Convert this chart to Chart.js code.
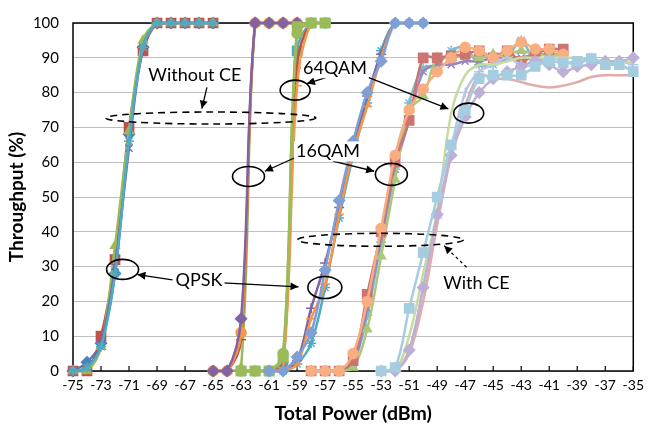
<!DOCTYPE html>
<html>
<head>
<meta charset="utf-8">
<script src="https://cdn.jsdelivr.net/npm/chart.js@4"></script>
<style>
  html, body { margin: 0; padding: 0; background: #fff; }
  #wrap { width: 650px; height: 441px; }
</style>
</head>
<body>
<div id="wrap"><canvas id="chart"></canvas></div>
<script>
// x tick labels run from -75 to -35 every 2 dBm
var xMin = -75, xMax = -35, xStep = 2;
var yMin = 0, yMax = 100, yStep = 10;

// QPSK, no channel estimation
var xQpsk = [-75, -74, -73, -72, -71, -70, -69, -68, -67, -66, -65];
var qpskA = [0, 2.5, 8, 28, 68, 93, 100, 100, 100, 100, 100];
var qpskB = [0, 0, 10, 32, 70, 92, 100, 100, 100, 100, 100];
var qpskC = [0, 0, 7, 36, 69, 95, 100, 100, 100, 100, 100];
var qpskD = [0, 1, 8, 30, 64, 93, 100, 100, 100, 100, 100];
var qpskE = [0, 1, 7, 28, 66, 93, 100, 100, 100, 100, 100];

// 16QAM, no channel estimation
var x16 = [-65, -64, -63, -62, -61, -60, -59];
var qam16A = [0, 0, 15, 100, 100, 100, 100];
var qam16B = [0, 0, 11, 100, 100, 100, 100];
var qam16C = [0, 0, 9, 100, 100, 100, 100];
var qam16D = [0, 0, 1, 100, 100, 100, 100];

// 64QAM, no channel estimation
var x64 = [-63, -62, -61, -60, -59, -58, -57];
var qam64A = [0, 0, 0, 5, 97, 100, 100];
var qam64B = [0, 0, 0, 4, 99, 100, 100];
var qam64C = [0, 0, 0, 1, 82, 100, 100];
var qam64D = [0, 0, 0, 2, 88, 100, 100];
var qam64E = [0, 0, 0, 3, 92, 100, 100];

// QPSK with CE
var xQpskCe = [-61, -60, -59, -58, -57, -56, -55, -54, -53, -52, -51, -50];
var qpskCeA = [0, 0, 4, 11, 29, 49, 66, 80, 89, 100, 100, 100];
var qpskCeB = [0, 0, 2, 15, 25, 45, 63, 76, 90, 100, 100, 100];
var qpskCeC = [0, 0, 3, 18, 31, 47, 64, 79, 91, 100, 100, 100];
var qpskCeD = [0, 0, 2, 8, 24, 44, 62, 77, 92, 100, 100, 100];

// 16QAM with CE
var x16Ce = [-58, -57, -56, -55, -54, -53, -52, -51, -50, -49, -48, -47, -46, -45, -44, -43, -42, -41, -40];
var qam16CeA = [0, 0, 0, 5, 20, 41, 62, 75, 81, 86, 90, 93, 92, 90, 92, 94.5, 92.5, 92.5, 91];
var qam16CeB = [0, 0, 0, 3, 22, 40, 60, 72, 90, 90, 90.5, 91, 92, 90, 92, 89, 91, 92.5, 92.5];
var qam16CeC = [0, 0, 0, 1, 12, 33, 55, 75, 79, 90, 90, 91, 90, 91, 91, 92, 91, 91, 91];
var qam16CeD = [0, 0, 0, 2, 18, 38, 58, 72, 86, 88, 88, 89, 89, 90, 90, 90, 91, 91, 91];
var qam16CeE = [0, 0, 0, 2, 16, 37, 58, 77, 87, 88, 92, 93, 88, 88, 90, 95, 89, 90, 90];

// 64QAM with CE
var x64Ce = [-53, -52, -51, -50, -49, -48, -47, -46, -45, -44, -43, -42, -41, -40, -39, -38, -37, -36, -35];
var qam64CeA = [0, 1, 18, 34, 50, 65, 75, 84, 85, 85, 85, 87.5, 89, 88.5, 89, 89.8, 88, 88, 86];
var qam64CeB = [0, 0, 6, 24, 45, 62, 73, 80, 84, 86, 87.5, 89, 88, 86, 87.5, 88, 89, 89, 90];
var qam64CeC = [0, 0, 5, 20, 42, 62, 76, 85, 84, 84, 83, 82, 81.5, 82, 83, 84.5, 85, 85, 85];
var qam64CeD = [0, 0, 10, 28, 46, 74, 85, 88, 88, 89, 90, 90, 90, 90, 90, 89.5, 89, 89, 88.5];
var qam64CeE = [0, 0, 6, 24, 44, 64, 80, 86, 88, 90, 88, 88, 90, 89, 88, 90, 88, 89, 88];

// marker sizes per point style
var markerSize = {rect: 6.5, rectRot: 5.5, circle: 5, triangle: 5, crossRot: 5, cross: 5, star: 5, line: 5};

function makeSeries(xs, ys, color, marker, hideMarker) {
    var pts = [];
    for (var i = 0; i < xs.length; i++) {
        pts.push({x: xs[i], y: ys[i]});
    }
    return {
        data: pts,
        showLine: true,
        borderColor: color,
        backgroundColor: color,
        borderWidth: 2.5,
        tension: 0.35,
        pointStyle: marker,
        pointRadius: hideMarker ? 0 : markerSize[marker],
        pointBorderColor: color,
        pointBackgroundColor: color,
        pointBorderWidth: 1.5,
        clip: false
    };
}

var datasets = [
    makeSeries(xQpsk, qpskA, '#4F81BD', 'rectRot'),
    makeSeries(xQpsk, qpskB, '#C0504D', 'rect'),
    makeSeries(xQpsk, qpskC, '#9BBB59', 'triangle'),
    makeSeries(xQpsk, qpskD, '#8064A2', 'crossRot'),
    makeSeries(xQpsk, qpskE, '#4BACC6', 'star'),

    makeSeries(x16, qam16D, '#9BBB59', 'triangle'),
    makeSeries(x16, qam16C, '#C0504D', 'line'),
    makeSeries(x16, qam16B, '#F79646', 'circle'),
    makeSeries(x16, qam16A, '#8064A2', 'rectRot'),

    makeSeries(x64, qam64E, '#4BACC6', 'rect'),
    makeSeries(x64, qam64D, '#C0504D', 'crossRot'),
    makeSeries(x64, qam64C, '#F79646', 'line'),
    makeSeries(x64, qam64B, '#9BBB59', 'rect'),
    makeSeries(x64, qam64A, '#9BBB59', 'circle'),

    makeSeries(xQpskCe, qpskCeD, '#4BACC6', 'star'),
    makeSeries(xQpskCe, qpskCeC, '#8064A2', 'cross'),
    makeSeries(xQpskCe, qpskCeB, '#F79646', 'line'),
    makeSeries(xQpskCe, qpskCeA, '#7F9FD6', 'rectRot'),

    makeSeries(x16Ce, qam16CeE, '#7DB9D0', 'star'),
    makeSeries(x16Ce, qam16CeD, '#9A86BA', 'crossRot'),
    makeSeries(x16Ce, qam16CeC, '#A9C97A', 'triangle'),
    makeSeries(x16Ce, qam16CeB, '#CD7472', 'rect'),
    makeSeries(x16Ce, qam16CeA, '#F8AE80', 'circle'),

    makeSeries(x64Ce, qam64CeE, '#B6C7E6', 'cross'),
    makeSeries(x64Ce, qam64CeD, '#C6DBA2', 'triangle', true),
    makeSeries(x64Ce, qam64CeC, '#E2AAA8', 'rect', true),
    makeSeries(x64Ce, qam64CeB, '#BDB0D6', 'rectRot'),
    makeSeries(x64Ce, qam64CeA, '#A6CCE0', 'rect')
];
// later series sit on top, as in the source
datasets.forEach(function (d, i) { d.order = datasets.length - i; });

// call-outs, positioned in data units
var labels = [
    {text: 'Without CE', x: -66.3, y: 85.1},
    {text: '64QAM', x: -56.3, y: 87.0},
    {text: '16QAM', x: -56.8, y: 63.1},
    {text: 'QPSK', x: -66.0, y: 26.2},
    {text: 'With CE', x: -46.2, y: 25.1}
];
var rings = [
    {x: -59.14, y: 80.7, rx: 15, ry: 10},
    {x: -46.75, y: 74.1, rx: 15, ry: 10},
    {x: -62.47, y: 55.9, rx: 16, ry: 10},
    {x: -52.27, y: 56.5, rx: 16, ry: 11},
    {x: -71.46, y: 29.2, rx: 16, ry: 10},
    {x: -57.02, y: 24.0, rx: 17, ry: 11}
];
var dashedRings = [
    {x: -65.16, y: 72.7, rx: 105, ry: 6},
    {x: -53.05, y: 37.7, rx: 83, ry: 6.5}
];
var arrows = [
    {x1: -65.44, y1: 81.5, x2: -65.8, y2: 75.4, dashed: false},
    {x1: -56.95, y1: 84.3, x2: -58.3, y2: 82.6, dashed: false},
    {x1: -54.2, y1: 84.8, x2: -48.2, y2: 75.3, dashed: false},
    {x1: -59.2, y1: 61.2, x2: -61.3, y2: 57.4, dashed: false},
    {x1: -56.45, y1: 60.3, x2: -53.5, y2: 57.4, dashed: false},
    {x1: -67.9, y1: 26.2, x2: -70.4, y2: 27.7, dashed: false},
    {x1: -64.3, y1: 25.3, x2: -58.9, y2: 24.2, dashed: false},
    {x1: -46.9, y1: 29.8, x2: -48.5, y2: 36.0, dashed: true}
];

function drawArrow(ctx, x1, y1, x2, y2, dashed) {
    ctx.save();
    ctx.strokeStyle = '#000';
    ctx.fillStyle = '#000';
    ctx.lineWidth = dashed ? 1.2 : 1.3;
    if (dashed) ctx.setLineDash([3, 3]);
    ctx.beginPath();
    ctx.moveTo(x1, y1);
    ctx.lineTo(x2, y2);
    ctx.stroke();
    ctx.setLineDash([]);
    var a = Math.atan2(y2 - y1, x2 - x1);
    var len = 8, w = 4;
    ctx.beginPath();
    ctx.moveTo(x2, y2);
    ctx.lineTo(x2 - len * Math.cos(a) + w * Math.sin(a), y2 - len * Math.sin(a) - w * Math.cos(a));
    ctx.lineTo(x2 - len * Math.cos(a) - w * Math.sin(a), y2 - len * Math.sin(a) + w * Math.cos(a));
    ctx.closePath();
    ctx.fill();
    ctx.restore();
}

var framePlugin = {
    id: 'frame',
    beforeDatasetsDraw: function (chart) {
        var ctx = chart.ctx, a = chart.chartArea;
        var xs = chart.scales.x;
        ctx.save();
        ctx.strokeStyle = '#000';
        ctx.lineWidth = 1.5;
        ctx.strokeRect(a.left, a.top, a.right - a.left, a.bottom - a.top);
        // small inside tick marks on the x axis
        ctx.lineWidth = 1.2;
        for (var v = xMin; v <= xMax; v += xStep) {
            var px = xs.getPixelForValue(v);
            ctx.beginPath();
            ctx.moveTo(px, a.bottom);
            ctx.lineTo(px, a.bottom - 5);
            ctx.stroke();
        }
        ctx.restore();
    },
    afterDraw: function (chart) {
        var ctx = chart.ctx;
        var xs = chart.scales.x, ys = chart.scales.y;
        ctx.save();
        ctx.strokeStyle = '#000';
        ctx.lineWidth = 1.6;
        rings.forEach(function (r) {
            ctx.beginPath();
            ctx.ellipse(xs.getPixelForValue(r.x), ys.getPixelForValue(r.y), r.rx, r.ry, 0, 0, Math.PI * 2);
            ctx.stroke();
        });
        ctx.setLineDash([7, 5]);
        ctx.lineWidth = 1.6;
        dashedRings.forEach(function (r) {
            ctx.beginPath();
            ctx.ellipse(xs.getPixelForValue(r.x), ys.getPixelForValue(r.y), r.rx, r.ry, 0, 0, Math.PI * 2);
            ctx.stroke();
        });
        ctx.setLineDash([]);
        arrows.forEach(function (ar) {
            drawArrow(ctx, xs.getPixelForValue(ar.x1), ys.getPixelForValue(ar.y1),
                xs.getPixelForValue(ar.x2), ys.getPixelForValue(ar.y2), ar.dashed);
        });
        ctx.fillStyle = '#000';
        ctx.font = '18px Lato';
        ctx.textAlign = 'center';
        ctx.textBaseline = 'middle';
        labels.forEach(function (l) {
            var px = xs.getPixelForValue(l.x), py = ys.getPixelForValue(l.y);
            var w = ctx.measureText(l.text).width;
            ctx.fillStyle = '#fff';
            ctx.fillRect(px - w / 2 - 2, py - 10, w + 4, 20);
            ctx.fillStyle = '#000';
            ctx.fillText(l.text, px, py);
        });
        ctx.restore();
    }
};

Chart.defaults.font.family = 'Lato';
Chart.defaults.color = '#000';

new Chart(document.getElementById('chart'), {
    type: 'scatter',
    data: {datasets: datasets},
    options: {
        responsive: true,
        maintainAspectRatio: false,
        animation: false,
        layout: {padding: {left: 0, right: 12, top: 8, bottom: 0}},
        plugins: {legend: {display: false}, tooltip: {enabled: false}},
        scales: {
            x: {
                type: 'linear',
                min: xMin,
                max: xMax,
                ticks: {stepSize: xStep, font: {size: 14}, padding: 6, maxRotation: 0, autoSkip: false},
                grid: {display: false, drawTicks: false},
                border: {display: false},
                title: {display: true, text: 'Total Power (dBm)', font: {size: 19.5, weight: 'bold'}, padding: {top: 0, bottom: 16}},
                afterFit: function (s) { s.height = 70; }
            },
            y: {
                min: yMin,
                max: yMax,
                ticks: {stepSize: yStep, font: {size: 15}, padding: 14},
                grid: {color: '#BEBEBE', lineWidth: 1, drawTicks: false},
                border: {display: false},
                title: {display: true, text: 'Throughput (%)', font: {size: 19, weight: 'bold'}, padding: {top: 5, bottom: 0}},
                afterFit: function (s) { s.width = 73; }
            }
        }
    },
    plugins: [framePlugin]
});
</script>
</body>
</html>
